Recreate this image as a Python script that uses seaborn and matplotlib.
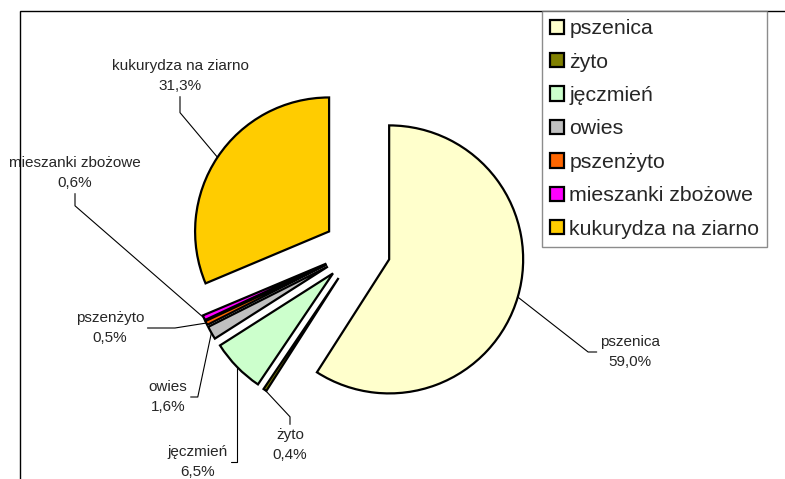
import numpy as np
import matplotlib.pyplot as plt
import seaborn as sns
from matplotlib.patches import Rectangle

# data (udział w %)
crops = ['pszenica', 'żyto', 'jęczmień', 'owies', 'pszenżyto',
         'mieszanki zbożowe', 'kukurydza na ziarno']
shares = [59.0, 0.4, 6.5, 1.6, 0.5, 0.6, 31.3]
colors = ['#FFFFCC', '#808000', '#CCFFCC', '#C0C0C0', '#FF6600',
          '#FF00FF', '#FFCC00']

sns.set_theme(style='white')
plt.rcParams['font.family'] = ['Liberation Sans', 'DejaVu Sans']

W, H = 785, 479
CX, CY, R = 357, 250, 134   # pie centre / radius in pixels

fig = plt.figure(figsize=(W / 100, H / 100), dpi=100)
ax = fig.add_axes([0, 0, 1, 1])

wedges, _ = ax.pie(shares, explode=[0.25] * len(shares), colors=colors,
                   startangle=90, counterclock=False, radius=1,
                   wedgeprops=dict(edgecolor='black', linewidth=1.6))

ax.set_xlim(-CX / R, (W - CX) / R)
ax.set_ylim(-(H - CY) / R, CY / R)
ax.set_aspect('auto')
ax.axis('off')

def px(x, y):
    return ((x - CX) / R, (CY - y) / R)

# label centre (pixels), leader angles
label_pos = {
    'pszenica': ((630, 352), 0, 142),
    'żyto': ((290, 445), 90, 133),
    'jęczmień': ((198, 462), 0, 90),
    'owies': ((168, 397), 0, 78),
    'pszenżyto': ((110, 328), 0, 9),
    'mieszanki zbożowe': ((75, 173), 90, -41),
    'kukurydza na ziarno': ((180, 76), 90, 130),
}

for w, name, val in zip(wedges, crops, shares):
    th = np.deg2rad((w.theta1 + w.theta2) / 2)
    cx, cy = w.center
    xy = (cx + w.r * np.cos(th), cy + w.r * np.sin(th))
    (tx, ty), a, b = label_pos[name]
    ax.annotate(f"{name}\n{val:.1f}%".replace('.', ','), xy=xy,
                xytext=px(tx, ty), ha='center', va='center',
                fontsize=11, linespacing=1.6,
                arrowprops=dict(arrowstyle='-', color='black', lw=0.8,
                                shrinkA=0, shrinkB=0,
                                connectionstyle=f"angle,angleA={a},angleB={b},rad=0"))

# chart area frame (only top and left visible)
fig.add_artist(Rectangle((20 / W, -0.5), 2, 0.5 + 1 - 11 / H,
                         transform=fig.transFigure, fill=False,
                         edgecolor='black', lw=1))

leg = fig.legend(wedges, crops, loc='upper left',
                 bbox_to_anchor=(542 / W, 1 - 11 / H), borderaxespad=0,
                 fontsize=15.3, frameon=True, fancybox=False,
                 handlelength=0.65, handleheight=0.65, handletextpad=0.25,
                 labelspacing=0.68, borderpad=0.38)
leg.get_frame().set_edgecolor('#707070')
leg.get_frame().set_linewidth(1)
for h in leg.legend_handles:
    h.set_edgecolor('black')
    h.set_linewidth(1.6)

fig.savefig('out.png', dpi=100)
